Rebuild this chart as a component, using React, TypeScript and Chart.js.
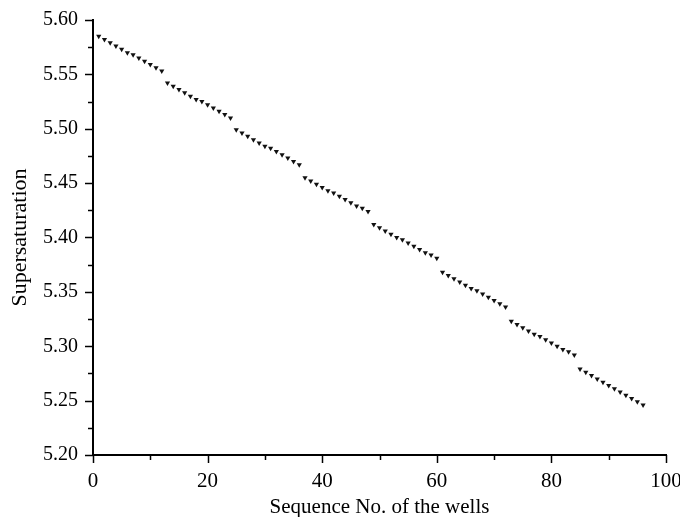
import React, { useEffect, useRef } from "react";
import { Chart, registerables } from "chart.js";

Chart.register(...registerables);

const wells: number[] = Array.from({ length: 96 }, (_, i) => i + 1);

const supersaturation: number[] = [
  5.585, 5.582, 5.579, 5.576, 5.573, 5.570, 5.568, 5.565, 5.562, 5.559, 5.556, 5.553,
  5.542, 5.539, 5.536, 5.533, 5.530, 5.527, 5.525, 5.522, 5.519, 5.516, 5.513, 5.510,
  5.499, 5.496, 5.493, 5.490, 5.487, 5.484, 5.482, 5.479, 5.476, 5.473, 5.470, 5.467,
  5.455, 5.452, 5.449, 5.446, 5.443, 5.441, 5.438, 5.435, 5.432, 5.429, 5.427, 5.424,
  5.412, 5.409, 5.406, 5.403, 5.400, 5.398, 5.395, 5.392, 5.389, 5.386, 5.384, 5.381,
  5.368, 5.365, 5.362, 5.359, 5.356, 5.353, 5.351, 5.348, 5.345, 5.342, 5.339, 5.336,
  5.323, 5.320, 5.317, 5.314, 5.311, 5.309, 5.306, 5.303, 5.300, 5.297, 5.295, 5.292,
  5.279, 5.276, 5.273, 5.270, 5.267, 5.264, 5.261, 5.258, 5.255, 5.252, 5.249, 5.246,
];

const xTitle = "Sequence No. of the wells";
const yTitle = "Supersaturation";

const FONT = "'Liberation Serif', 'Times New Roman', serif";

const isMajor = (v: number, step: number) =>
  Math.abs(Math.round(v / step) * step - v) < 1e-6;

const tickPlugin = {
  id: "customTicks",
  afterDraw(chart: any) {
    const ctx = chart.ctx;
    const area = chart.chartArea;
    const xs = chart.scales.x;
    const ys = chart.scales.y;
    ctx.save();
    ctx.strokeStyle = "#000";
    ctx.lineWidth = 1.5;
    ys.ticks.forEach((t: any) => {
      const p = Math.round(ys.getPixelForValue(t.value)) + 0.5;
      const len = isMajor(t.value, 0.05) ? 8 : 5;
      ctx.beginPath();
      ctx.moveTo(area.left, p);
      ctx.lineTo(area.left - len, p);
      ctx.stroke();
    });
    xs.ticks.forEach((t: any) => {
      const p = Math.round(xs.getPixelForValue(t.value)) + 0.5;
      const len = isMajor(t.value, 20) ? 8 : 5;
      ctx.beginPath();
      ctx.moveTo(p, area.bottom);
      ctx.lineTo(p, area.bottom + len);
      ctx.stroke();
    });
    ctx.restore();
  },
};

export default function App() {
  const ref = useRef<HTMLCanvasElement | null>(null);

  useEffect(() => {
    if (!ref.current) return;
    const chart = new Chart(ref.current, {
      type: "scatter",
      data: {
        datasets: [
          {
            data: wells.map((w, i) => ({ x: w, y: supersaturation[i] })),
            pointStyle: "triangle",
            rotation: 180,
            radius: 3,
            backgroundColor: "#111",
            borderColor: "#111",
            borderWidth: 0,
          } as any,
        ],
      },
      options: {
        animation: false,
        responsive: true,
        maintainAspectRatio: false,
        layout: { padding: { top: 20, right: 14, left: 0, bottom: 0 } },
        plugins: {
          legend: { display: false },
          tooltip: { enabled: false },
        },
        scales: {
          x: {
            type: "linear",
            min: 0,
            max: 100,
            afterFit: (s: any) => {
              s.height = 62;
              s.paddingLeft = 0;
              s.paddingRight = 0;
            },
            ticks: {
              stepSize: 10,
              autoSkip: false,
              maxRotation: 0,
              padding: 6,
              color: "#000",
              font: { family: FONT, size: 21 },
              callback: (v: any) => (isMajor(Number(v), 20) ? String(v) : ""),
            },
            grid: {
              display: true,
              drawOnChartArea: false,
              drawTicks: true,
              tickLength: 8,
              tickColor: "rgba(0,0,0,0)",
            },
            border: { display: true, color: "#000", width: 2 },
            title: {
              display: true,
              text: xTitle,
              color: "#000",
              font: { family: FONT, size: 21 },
              padding: { top: 0, bottom: -3 },
            },
          },
          y: {
            type: "linear",
            min: 5.2,
            max: 5.6,
            afterFit: (s: any) => {
              s.width = 93;
              s.paddingTop = 0;
              s.paddingBottom = 0;
            },
            ticks: {
              stepSize: 0.025,
              autoSkip: false,
              padding: 7,
              color: "#000",
              font: { family: FONT, size: 20 },
              callback: (v: any) =>
                isMajor(Number(v), 0.05) ? Number(v).toFixed(2) : "",
            },
            grid: {
              display: true,
              drawOnChartArea: false,
              drawTicks: true,
              tickLength: 8,
              tickColor: "rgba(0,0,0,0)",
            },
            border: { display: true, color: "#000", width: 2 },
            title: {
              display: true,
              text: yTitle,
              color: "#000",
              font: { family: FONT, size: 22 },
              padding: { top: 7, bottom: 0 },
            },
          },
        },
      },
      plugins: [tickPlugin],
    });
    return () => chart.destroy();
  }, []);

  return (
    <div
      style={{
        position: "absolute",
        left: 0,
        top: 0,
        width: 680,
        height: 517,
        background: "#fff",
      }}
    >
      <canvas ref={ref} />
    </div>
  );
}
